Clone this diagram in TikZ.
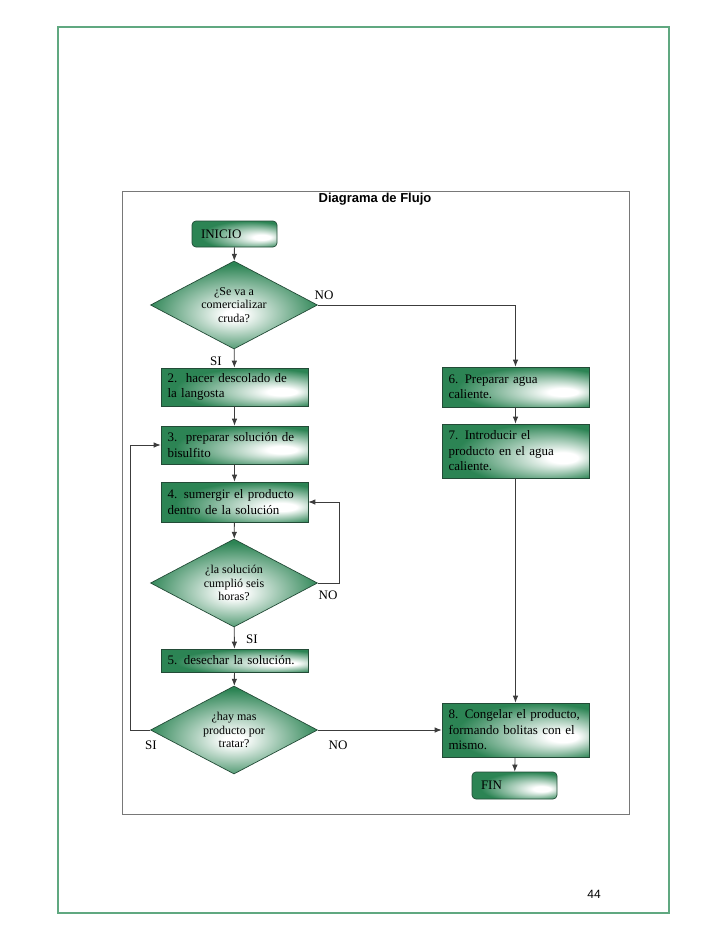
\documentclass[tikz,border=0pt]{standalone}
\usepackage{fontspec}
\setmainfont{Liberation Serif}
\newfontfamily\titlefont{Liberation Sans}
\usetikzlibrary{shapes.geometric,arrows.meta}

\definecolor{boxgreen}{RGB}{44,132,84}
\definecolor{boxedge}{RGB}{35,75,55}
\definecolor{linegray}{RGB}{60,60,60}
\definecolor{framegray}{RGB}{120,120,120}
\definecolor{pagegreen}{RGB}{96,168,128}

\pgfdeclareradialshading{boxshade}{\pgfpoint{18bp}{-7bp}}{color(0bp)=(white); color(5bp)=(white); color(28bp)=(boxgreen); color(50bp)=(boxgreen)}
\pgfdeclareradialshading{diamshade}{\pgfpoint{0bp}{-6bp}}{color(0bp)=(white); color(3bp)=(white); color(26bp)=(boxgreen); color(50bp)=(boxgreen)}

\begin{document}
\begin{tikzpicture}[x=1pt,y=-1pt,
  procbox/.style={draw=boxedge, line width=0.7pt, shading=boxshade, minimum width=147pt,
    text width=134pt, inner xsep=6.5pt, inner ysep=0pt, align=left,
    font=\fontsize{13}{15.5}\selectfont},
  termbox/.style={procbox, rounded corners=4pt, minimum width=85pt, text width=67pt,
    inner xsep=9pt, minimum height=26pt},
  decision/.style={diamond, draw=boxedge, line width=0.7pt, shading=diamshade, aspect=1.9,
    minimum width=167pt, minimum height=88pt, inner sep=0pt, align=center,
    font=\fontsize{12}{13.5}\selectfont},
  flow/.style={draw=linegray, line width=0.8pt, -{Latex[length=7pt,width=5.5pt]}},
  answer/.style={font=\fontsize{13}{15}\selectfont, inner sep=0pt}]
\useasboundingbox (0,0) rectangle (728,943);

% PAGE
\draw[pagegreen, line width=1.8pt] (58,27) rectangle (669,913);
\node[font=\titlefont\fontsize{12}{14}\selectfont, inner sep=0pt] (pagenum) at (594,894) {44};
\draw[framegray, line width=0.9pt] (122,191) rectangle (629,814);
\node[font=\titlefont\bfseries\fontsize{13}{15}\selectfont, inner sep=0pt] (title) at (375,199) {Diagrama de Flujo};

% LEFT COLUMN
\node[termbox] (inicio) at (234.5,234) {INICIO};
\node[decision] (d1) at (234,305) {¿Se va a\\comercializar\\cruda?};
\node[procbox, minimum height=38pt] (b2) at (234.5,387) {2.~~hacer descolado de\\la langosta};
\node[procbox, minimum height=38pt] (b3) at (234.5,445) {3.~~preparar solución de\\bisulfito};
\node[procbox, minimum height=40pt] (b4) at (234.5,502) {4. sumergir el producto\\dentro de la solución};
\node[decision] (d2) at (234,583) {¿la solución\\cumplió seis\\horas?};
\node[procbox, minimum height=23pt] (b5) at (234.5,660.5) {5. desechar la solución.};
\node[decision] (d3) at (234,730) {¿hay mas\\producto por\\tratar?};

% RIGHT COLUMN
\node[procbox, minimum height=40pt] (b6) at (515.5,387) {6. Preparar agua\\caliente.};
\node[procbox, minimum height=54pt] (b7) at (515.5,451) {7. Introducir el\\producto en el agua\\caliente.};
\node[procbox, minimum height=54pt] (b8) at (515.5,730) {8. Congelar el producto,\\formando bolitas con el\\mismo.};
\node[termbox, minimum height=27pt] (fin) at (514.5,785.5) {FIN};

% CONNECTORS
\draw[flow] (inicio) -- (d1);
\draw[flow] (d1.east) -| (b6.north);
\draw[flow] (d1) -- (b2);
\draw[flow] (b2) -- (b3);
\draw[flow] (b3) -- (b4);
\draw[flow] (b4) -- (d2);
\draw[flow] (d2.east) -- ++(22,0) |- (b4.east);
\draw[flow] (d2) -- (b5);
\draw[flow] (b5) -- (d3);
\draw[flow] (d3.west) -- ++(-20,0) |- (b3.west);
\draw[flow] (d3.east) -- (b8.west);
\draw[flow] (b6) -- (b7);
\draw[flow] (b7) -- (b8);
\draw[flow] (b8) -- (fin);

% ANSWERS
\node[answer] (no1) at (324,295) {NO};
\node[answer] (si1) at (216,361) {SI};
\node[answer] (no2) at (328,595) {NO};
\node[answer] (si2) at (252,639) {SI};
\node[answer] (si3) at (151,745) {SI};
\node[answer] (no3) at (338,745) {NO};
\end{tikzpicture}
\end{document}
